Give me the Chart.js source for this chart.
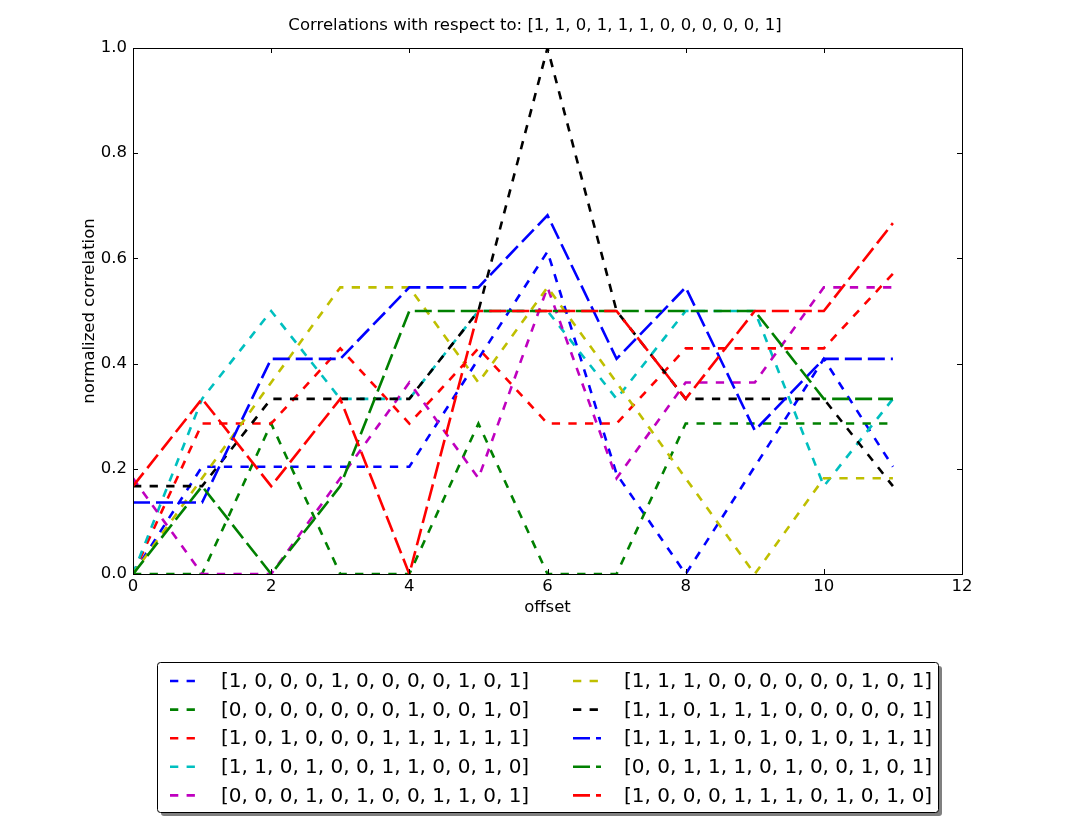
<!DOCTYPE html>
<html>
<head>
<meta charset="utf-8">
<script src="https://cdn.jsdelivr.net/npm/chart.js@4/dist/chart.umd.min.js"></script>
<style>
  html, body { margin: 0; padding: 0; background: #fff; }
  #wrap { width: 1070px; height: 821px; }
</style>
</head>
<body>
<div id="wrap"><canvas id="corr" width="1070" height="821"></canvas></div>
<script>
const titleText = 'Correlations with respect to: [1, 1, 0, 1, 1, 1, 0, 0, 0, 0, 0, 1]';
const offsets = [0, 1, 2, 3, 4, 5, 6, 7, 8, 9, 10, 11];
const xTicks = [0, 2, 4, 6, 8, 10, 12];
const yTicks = [0.0, 0.2, 0.4, 0.6, 0.8, 1.0];

const seriesLabels = [
  '[1, 0, 0, 0, 1, 0, 0, 0, 0, 1, 0, 1]',
  '[0, 0, 0, 0, 0, 0, 0, 1, 0, 0, 1, 0]',
  '[1, 0, 1, 0, 0, 0, 1, 1, 1, 1, 1, 1]',
  '[1, 1, 0, 1, 0, 0, 1, 1, 0, 0, 1, 0]',
  '[0, 0, 0, 1, 0, 1, 0, 0, 1, 1, 0, 1]',
  '[1, 1, 1, 0, 0, 0, 0, 0, 0, 1, 0, 1]',
  '[1, 1, 0, 1, 1, 1, 0, 0, 0, 0, 0, 1]',
  '[1, 1, 1, 1, 0, 1, 0, 1, 0, 1, 1, 1]',
  '[0, 0, 1, 1, 1, 0, 1, 0, 0, 1, 0, 1]',
  '[1, 0, 0, 0, 1, 1, 1, 0, 1, 0, 1, 0]'
];

// values
const blueShort    = [0, 0.204, 0.204, 0.204, 0.204, 0.409, 0.613, 0.19, 0, 0.204, 0.409, 0.204];
const greenShort   = [0, 0, 0.286, 0, 0, 0.286, 0, 0, 0.286, 0.286, 0.286, 0.286];
const redShort     = [0, 0.286, 0.286, 0.429, 0.286, 0.429, 0.286, 0.286, 0.429, 0.429, 0.429, 0.571];
const cyanShort    = [0, 0.333, 0.5, 0.333, 0.333, 0.5, 0.5, 0.333, 0.5, 0.5, 0.167, 0.333];
const magentaShort = [0.182, 0, 0, 0.182, 0.364, 0.182, 0.545, 0.182, 0.364, 0.364, 0.545, 0.545];
const yellowShort  = [0, 0.182, 0.364, 0.545, 0.545, 0.364, 0.545, 0.364, 0.182, 0, 0.182, 0.182];
const blackShort   = [0.167, 0.167, 0.333, 0.333, 0.333, 0.5, 1.0, 0.5, 0.333, 0.333, 0.333, 0.167];
const blueLong     = [0.136, 0.136, 0.409, 0.409, 0.545, 0.545, 0.682, 0.409, 0.545, 0.273, 0.409, 0.409];
const greenLong    = [0, 0.167, 0, 0.167, 0.5, 0.5, 0.5, 0.5, 0.5, 0.5, 0.333, 0.333];
const redLong      = [0.167, 0.333, 0.167, 0.333, 0, 0.5, 0.5, 0.5, 0.333, 0.5, 0.5, 0.667];

const allSeries = [blueShort, greenShort, redShort, cyanShort, magentaShort,
                   yellowShort, blackShort, blueLong, greenLong, redLong];
const lineColors = ['#0000ff', '#008000', '#ff0000', '#00bfbf', '#bf00bf',
                    '#bfbf00', '#000000', '#0000ff', '#008000', '#ff0000'];
const shortDash = [8.3, 8.3];
const longDash = [17, 6];

const FONT = '"DejaVu Sans", "Liberation Sans", sans-serif';

// inward ticks + full frame like matplotlib
const framePlugin = {
  id: 'frame',
  afterDatasetsDraw(chart) {
    const {ctx, chartArea: a, scales} = chart;
    ctx.save();
    ctx.strokeStyle = '#000';
    ctx.lineWidth = 1;
    ctx.beginPath();
    xTicks.forEach(v => {
      const px = Math.round(scales.x.getPixelForValue(v)) + 0.5;
      ctx.moveTo(px, a.bottom); ctx.lineTo(px, a.bottom - 5);
      ctx.moveTo(px, a.top); ctx.lineTo(px, a.top + 5);
    });
    yTicks.forEach(v => {
      const py = Math.round(scales.y.getPixelForValue(v)) + 0.5;
      ctx.moveTo(a.left, py); ctx.lineTo(a.left + 5, py);
      ctx.moveTo(a.right, py); ctx.lineTo(a.right - 5, py);
    });
    ctx.stroke();
    ctx.strokeRect(Math.round(a.left) + 0.5, Math.round(a.top) + 0.5,
                   Math.round(a.right - a.left), Math.round(a.bottom - a.top));
    ctx.restore();
  }
};

// two-column boxed legend with shadow, below the axes
const boxLegend = {
  id: 'boxLegend',
  afterDraw(chart) {
    const ctx = chart.ctx;
    const bx = 157, by = 662, bw = 781, bh = 150;
    ctx.save();
    ctx.fillStyle = '#808080';
    ctx.beginPath();
    ctx.roundRect(bx + 4, by + 4, bw, bh, 3);
    ctx.fill();
    ctx.fillStyle = '#fff';
    ctx.strokeStyle = '#000';
    ctx.lineWidth = 1;
    ctx.beginPath();
    ctx.roundRect(bx + 0.5, by + 0.5, bw, bh, 3);
    ctx.fill();
    ctx.stroke();

    ctx.font = '20px ' + FONT;
    ctx.textBaseline = 'middle';
    chart.data.datasets.forEach((ds, i) => {
      const col = i < 5 ? 0 : 1;
      const row = i % 5;
      const hx = col === 0 ? 170 : 573;
      const tx = col === 0 ? 221 : 624;
      const y = 681 + row * 28.6;
      ctx.strokeStyle = ds.borderColor;
      ctx.lineWidth = ds.borderWidth;
      ctx.setLineDash(ds.borderDash);
      ctx.beginPath();
      ctx.moveTo(hx, y);
      ctx.lineTo(hx + (ds.borderDash === longDash ? 28 : 25), y);
      ctx.stroke();
      ctx.setLineDash([]);
      ctx.fillStyle = '#000';
      ctx.fillText(ds.label, tx, y + 1);
    });
    ctx.restore();
  }
};

const datasets = allSeries.map((vals, i) => ({
  label: seriesLabels[i],
  data: offsets.map((x, k) => ({x: x, y: vals[k]})),
  borderColor: lineColors[i],
  backgroundColor: lineColors[i],
  borderWidth: 2.6,
  borderDash: i < 7 ? shortDash : longDash,
  borderCapStyle: 'butt',
  borderJoinStyle: 'miter',
  pointRadius: 0,
  tension: 0,
  fill: false,
  order: allSeries.length - i
}));

new Chart(document.getElementById('corr').getContext('2d'), {
  type: 'line',
  data: {datasets: datasets},
  options: {
    responsive: false,
    animation: false,
    devicePixelRatio: 1,
    layout: {padding: {top: 0, left: 0, right: 0, bottom: 197}},
    scales: {
      x: {
        type: 'linear',
        min: 0,
        max: 12,
        grid: {display: false, drawTicks: false},
        border: {display: false},
        ticks: {stepSize: 2, padding: 3, color: '#000', font: {family: FONT, size: 16.5}},
        title: {display: true, text: 'offset', color: '#000', padding: {top: 0, bottom: 6},
                font: {family: FONT, size: 16.5}},
        afterFit(scale) { scale.height = 50; }
      },
      y: {
        min: 0,
        max: 1,
        grid: {display: false, drawTicks: false},
        border: {display: false},
        ticks: {stepSize: 0.2, padding: 6, color: '#000', font: {family: FONT, size: 16.5},
                callback: v => v.toFixed(1)},
        title: {display: true, text: 'normalized correlation', color: '#000',
                padding: {top: 80, bottom: 0}, font: {family: FONT, size: 16.5}},
        afterFit(scale) { scale.width = 133; }
      },
      // empty right-hand box so the title stays centred on the whole figure
      yRight: {
        position: 'right',
        min: 0,
        max: 1,
        grid: {display: false, drawTicks: false},
        border: {display: false},
        ticks: {display: false},
        afterFit(scale) { scale.width = 108; }
      }
    },
    plugins: {
      legend: {display: false},
      tooltip: {enabled: false},
      title: {
        display: true,
        text: titleText,
        color: '#000',
        font: {family: FONT, size: 16.5, weight: 'normal'},
        padding: {top: 16, bottom: 12.2}
      }
    }
  },
  plugins: [framePlugin, boxLegend]
});
</script>
</body>
</html>
